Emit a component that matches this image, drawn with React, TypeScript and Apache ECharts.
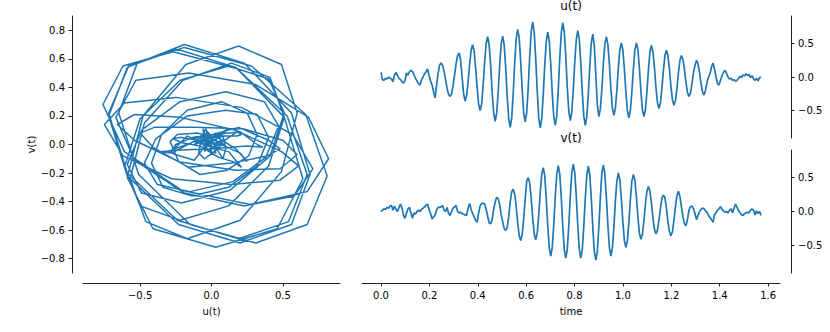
import React, { useEffect, useRef } from "react";
import * as echarts from "echarts";

const U: number[] = [
  0.07, -0.04, -0.05, -0.02, -0.03, 0.0, -0.02, -0.03, -0.07, 0.03,
  0.07, 0.02, -0.02, -0.04, -0.07, -0.09, -0.05, 0.06, 0.03, 0.08,
  0.1, 0.08, 0.03, -0.02, -0.06, -0.1, -0.12, -0.04, 0.0, 0.05,
  0.08, 0.12, 0.02, -0.06, -0.12, -0.22, -0.31, -0.12, 0.05, 0.18,
  0.21, 0.18, 0.08, -0.04, -0.17, -0.26, -0.29, -0.25, -0.13, 0.03,
  0.2, 0.32, 0.36, 0.25, 0.0, -0.25, -0.36, -0.28, -0.07, 0.19,
  0.4, 0.48, 0.39, 0.14, -0.16, -0.41, -0.5, -0.4, -0.12, 0.22,
  0.5, 0.6, 0.48, 0.17, -0.23, -0.54, -0.66, -0.54, -0.22, 0.17,
  0.49, 0.61, 0.48, 0.14, -0.28, -0.62, -0.75, -0.61, -0.25, 0.21,
  0.57, 0.71, 0.58, 0.23, -0.19, -0.54, -0.67, -0.53, -0.16, 0.31,
  0.68, 0.82, 0.67, 0.27, -0.21, -0.61, -0.76, -0.62, -0.27, 0.18,
  0.53, 0.67, 0.54, 0.19, -0.24, -0.59, -0.72, -0.58, -0.19, 0.28,
  0.66, 0.81, 0.67, 0.31, -0.15, -0.51, -0.65, -0.52, -0.19, 0.23,
  0.56, 0.69, 0.56, 0.2, -0.23, -0.59, -0.72, -0.59, -0.25, 0.17,
  0.51, 0.64, 0.46, 0.03, -0.41, -0.59, -0.48, -0.18, 0.19, 0.49,
  0.6, 0.49, 0.2, -0.17, -0.46, -0.57, -0.47, -0.2, 0.14, 0.41,
  0.51, 0.4, 0.12, -0.22, -0.5, -0.61, -0.5, -0.22, 0.12, 0.4,
  0.51, 0.41, 0.13, -0.21, -0.49, -0.59, -0.49, -0.22, 0.1, 0.37,
  0.47, 0.38, 0.15, -0.15, -0.38, -0.47, -0.39, -0.17, 0.1, 0.32,
  0.4, 0.32, 0.12, -0.14, -0.34, -0.42, -0.35, -0.17, 0.07, 0.25,
  0.32, 0.26, 0.11, -0.08, -0.23, -0.29, -0.24, -0.1, 0.06, 0.17,
  0.25, 0.2, 0.07, -0.09, -0.22, -0.27, -0.2, -0.08, 0.0, 0.05,
  0.15, 0.21, 0.12, 0.0, -0.1, -0.12, -0.05, 0.02, 0.07, 0.1,
  0.05, 0.0, -0.03, -0.02, -0.05, -0.04, -0.06, -0.05, -0.02, 0.01,
  -0.01, 0.03, 0.02, 0.05, 0.02, 0.04, -0.01, 0.02, -0.03, -0.05,
  -0.02, -0.06, -0.01, 0.0,
];

const V: number[] = [
  0.0, 0.02, 0.04, 0.03, 0.06, 0.05, 0.08, 0.09, 0.02, 0.08,
  0.03, 0.0, 0.06, 0.11, 0.05, -0.06, -0.1, -0.02, 0.04, 0.06,
  -0.03, -0.1, -0.02, -0.04, 0.0, 0.02, 0.0, 0.03, 0.05, 0.07,
  0.09, 0.11, 0.03, -0.03, -0.11, -0.08, -0.05, 0.02, 0.06, 0.06,
  0.07, 0.09, 0.02, 0.0, 0.06, -0.03, -0.06, 0.0, 0.05, 0.07,
  0.09, 0.0, -0.02, -0.01, -0.03, -0.04, -0.05, -0.06, 0.05, 0.12,
  0.03, -0.03, -0.08, -0.13, -0.16, -0.02, 0.08, 0.12, 0.12, 0.11,
  0.03, -0.07, -0.17, -0.18, -0.12, 0.03, 0.14, 0.21, 0.19, 0.1,
  -0.05, -0.15, -0.25, -0.28, -0.24, -0.08, 0.14, 0.29, 0.33, 0.26,
  0.07, -0.17, -0.36, -0.43, -0.34, -0.11, 0.19, 0.45, 0.5, 0.42,
  0.19, -0.1, -0.33, -0.42, -0.32, -0.05, 0.28, 0.55, 0.65, 0.53,
  0.2, -0.21, -0.54, -0.66, -0.53, -0.2, 0.22, 0.55, 0.68, 0.55,
  0.21, -0.22, -0.56, -0.69, -0.56, -0.21, 0.22, 0.57, 0.7, 0.57,
  0.22, -0.21, -0.56, -0.69, -0.56, -0.22, 0.2, 0.54, 0.67, 0.54,
  0.19, -0.24, -0.59, -0.72, -0.59, -0.23, 0.2, 0.56, 0.69, 0.56,
  0.22, -0.19, -0.53, -0.66, -0.54, -0.24, 0.15, 0.45, 0.57, 0.47,
  0.19, -0.15, -0.43, -0.53, -0.43, -0.16, 0.18, 0.45, 0.55, 0.46,
  0.22, -0.08, -0.32, -0.41, -0.34, -0.14, 0.1, 0.3, 0.37, 0.3,
  0.13, -0.09, -0.26, -0.33, -0.28, -0.13, 0.04, 0.2, 0.24, 0.21,
  0.05, -0.15, -0.3, -0.36, -0.3, -0.13, 0.07, 0.24, 0.3, 0.22,
  0.07, -0.08, -0.18, -0.21, -0.12, 0.02, 0.07, 0.08, 0.04, -0.03,
  -0.12, -0.06, 0.0, 0.03, 0.05, 0.04, 0.01, -0.01, -0.06, -0.09,
  -0.12, -0.16, -0.05, -0.02, 0.02, 0.04, 0.07, 0.03, 0.01, -0.01,
  0.0, -0.02, 0.02, 0.04, -0.02, 0.05, 0.11, 0.06, 0.01, -0.02,
  -0.05, -0.06, -0.03, -0.02, -0.01, -0.02, 0.02, 0.04, 0.02, -0.05,
  0.01, -0.03, 0.0, -0.06,
];

const T_END = Math.PI / 2;
const PHASE_TICKS_X = [-0.5, 0, 0.5];
const PHASE_TICKS_Y = [-0.8, -0.6, -0.4, -0.2, 0, 0.2, 0.4, 0.6, 0.8];
const SIGNAL_TICKS_Y = [-0.5, 0, 0.5];
const TIME_TICKS = [0, 0.2, 0.4, 0.6, 0.8, 1.0, 1.2, 1.4, 1.6];

const FONT = "DejaVu Sans";
const LINE = "#1f77b4";
const AX = "#222";

function fmt(v: number): string {
  const s = Math.abs(v).toFixed(1);
  return v < -1e-9 ? "\u2212" + s : s;
}

export default function App() {
  const ref = useRef<HTMLDivElement>(null);
  useEffect(() => {
    if (!ref.current) return;
    const chart = echarts.init(ref.current, undefined, { renderer: "svg" });
    const n = U.length;
    const dt = T_END / (n - 1);
    const tData = U.map((u, i) => [i * dt, u]);
    const vData = V.map((v, i) => [i * dt, v]);
    const phase = U.map((u, i) => [u, V[i]]);

    const axisCommon = {
      type: "value" as const,
      splitLine: { show: false },
      axisLine: { show: true, onZero: false, lineStyle: { color: AX, width: 1 } },
      axisTick: { show: true, length: 3.5, lineStyle: { color: AX, width: 1 } },
      axisLabel: { color: "#000", fontFamily: FONT, fontSize: 10, margin: 7, formatter: fmt },
      nameTextStyle: { color: "#000", fontFamily: FONT, fontSize: 10 },
    };

    const option: any = {
      animation: false,
      backgroundColor: "#fff",
      title: [
        {
          text: "u(t)", left: 571, top: 0, textAlign: "center",
          textStyle: { fontFamily: FONT, fontSize: 12, fontWeight: "normal", color: "#000" },
          padding: 0,
        },
        {
          text: "v(t)", left: 571, top: 132, textAlign: "center",
          textStyle: { fontFamily: FONT, fontSize: 12, fontWeight: "normal", color: "#000" },
          padding: 0,
        },
      ],
      grid: [
        { left: 83, top: 16, width: 257, height: 257 },
        { left: 362, top: 16, width: 418, height: 122 },
        { left: 362, top: 150, width: 418, height: 123 },
      ],
      xAxis: [
        {
          ...axisCommon, gridIndex: 0, min: -0.9, max: 0.9, position: "bottom", offset: 10,
          name: "u(t)", nameLocation: "middle", nameGap: 23,
          axisTick: { ...axisCommon.axisTick, customValues: PHASE_TICKS_X },
          axisLabel: { ...axisCommon.axisLabel, customValues: PHASE_TICKS_X },
        },
        {
          ...axisCommon, gridIndex: 1, min: -0.0785, max: 1.649, show: false,
        },
        {
          ...axisCommon, gridIndex: 2, min: -0.0785, max: 1.649, position: "bottom", offset: 10,
          name: "time", nameLocation: "middle", nameGap: 23,
          axisTick: { ...axisCommon.axisTick, customValues: TIME_TICKS },
          axisLabel: { ...axisCommon.axisLabel, customValues: TIME_TICKS },
        },
      ],
      yAxis: [
        {
          ...axisCommon, gridIndex: 0, min: -0.9, max: 0.9, position: "left", offset: 11,
          name: "v(t)", nameLocation: "middle", nameGap: 36, nameRotate: 90,
          axisTick: { ...axisCommon.axisTick, customValues: PHASE_TICKS_Y },
          axisLabel: { ...axisCommon.axisLabel, customValues: PHASE_TICKS_Y },
        },
        {
          ...axisCommon, gridIndex: 1, min: -0.91, max: 0.91, position: "right", offset: 11,
          axisTick: { ...axisCommon.axisTick, customValues: SIGNAL_TICKS_Y },
          axisLabel: { ...axisCommon.axisLabel, customValues: SIGNAL_TICKS_Y },
        },
        {
          ...axisCommon, gridIndex: 2, min: -0.91, max: 0.91, position: "right", offset: 11,
          axisTick: { ...axisCommon.axisTick, customValues: SIGNAL_TICKS_Y },
          axisLabel: { ...axisCommon.axisLabel, customValues: SIGNAL_TICKS_Y },
        },
      ],
      series: [
        {
          type: "line", xAxisIndex: 0, yAxisIndex: 0, data: phase, symbol: "none",
          lineStyle: { color: LINE, width: 1.5 }, clip: false,
        },
        {
          type: "line", xAxisIndex: 1, yAxisIndex: 1, data: tData, symbol: "none",
          lineStyle: { color: LINE, width: 1.7 }, clip: false,
        },
        {
          type: "line", xAxisIndex: 2, yAxisIndex: 2, data: vData, symbol: "none",
          lineStyle: { color: LINE, width: 1.7 }, clip: false,
        },
      ],
    };
    chart.setOption(option);
    return () => chart.dispose();
  }, []);
  return (
    <div
      ref={ref}
      style={{ position: "fixed", left: 0, top: 0, width: 830, height: 332, background: "#fff" }}
    />
  );
}
